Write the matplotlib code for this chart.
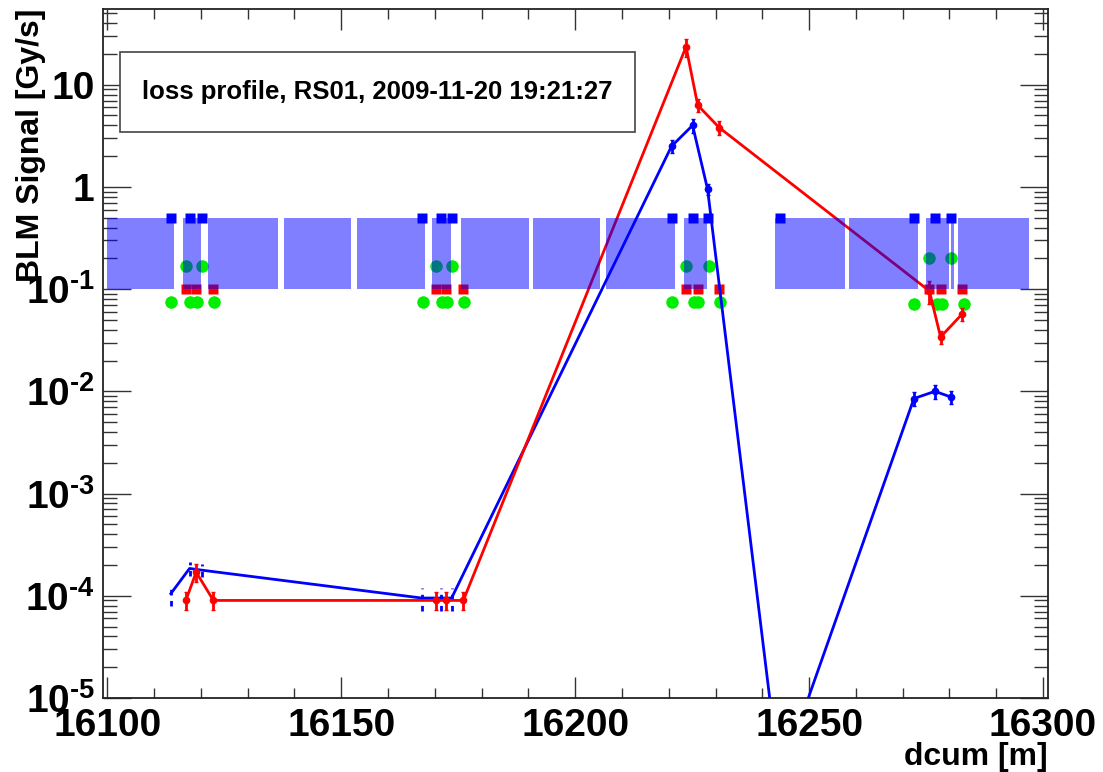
import matplotlib
matplotlib.use("Agg")
import matplotlib.pyplot as plt
from matplotlib.ticker import MultipleLocator, LogLocator, FuncFormatter, NullFormatter
from matplotlib.patches import Rectangle
import numpy as np

plt.rcParams['font.family'] = ['Liberation Sans', 'DejaVu Sans']
plt.rcParams['font.weight'] = 'bold'
plt.rcParams['mathtext.fontset'] = 'custom'
plt.rcParams['mathtext.rm'] = 'Liberation Sans:bold'
plt.rcParams['mathtext.it'] = 'Liberation Sans:bold'
plt.rcParams['mathtext.bf'] = 'Liberation Sans:bold'

# magnet (cold element) extents along dcum [m]
band_start = [16100.0, 16116.1, 16121.6, 16137.7, 16153.3, 16169.5, 16175.6, 16191.0,
              16206.5, 16223.3, 16226.7, 16242.7, 16258.6, 16274.9, 16280.3, 16281.9]
band_end = [16114.3, 16120.0, 16136.5, 16152.1, 16167.9, 16173.4, 16190.2, 16205.3,
            16221.4, 16226.6, 16228.1, 16257.7, 16273.2, 16279.9, 16280.9, 16296.9]

# monitor positions, beam 1 (blue) and beam 2 (red)
blue_pos = [16113.6, 16117.6, 16120.2, 16167.2, 16171.3, 16173.6, 16220.6, 16225.1,
            16228.3, 16243.7, 16272.4, 16276.9, 16280.3]
blue_sig = [1.05e-4, 1.85e-4, 1.78e-4, 9.5e-5, 9.5e-5, 9.5e-5, 2.5, 4.0,
            0.95, 1.6e-6, 8.5e-3, 1.0e-2, 8.8e-3]
blue_err = [0.25, 0.15, 0.15, 0.25, 0.25, 0.25, 0.15, 0.15, 0.12, 0.3, 0.15, 0.15, 0.15]
blue_dashed = [True, True, True, True, True, True, False, False, False, False, False, False, False]

red_pos = [16116.8, 16119.0, 16122.7, 16170.2, 16172.3, 16176.1, 16223.7, 16226.2,
           16230.8, 16275.7, 16278.1, 16282.7]
red_sig = [9.0e-5, 1.7e-4, 9.0e-5, 9.0e-5, 9.0e-5, 9.0e-5, 23.5, 6.3,
           3.8, 0.096, 0.034, 0.057]
red_err = [0.2, 0.2, 0.2, 0.2, 0.2, 0.2, 0.2, 0.15, 0.15, 0.25, 0.15, 0.15]

# other monitor markers
green_hi_pos = [16116.9, 16120.3, 16170.3, 16173.6, 16223.7, 16228.5, 16275.7, 16280.3]
green_hi_val = [0.17, 0.17, 0.17, 0.17, 0.17, 0.17, 0.2, 0.2]
green_lo_pos = [16113.7, 16117.7, 16119.2, 16122.9, 16167.4, 16171.5, 16172.6, 16176.3,
                16220.8, 16225.3, 16226.3, 16231.0, 16272.5, 16277.3, 16278.4, 16283.0]
green_lo_val = [0.075] * 12 + [0.072] * 4

title = "loss profile, RS01, 2009-11-20 19:21:27"

fig = plt.figure(figsize=(11.03, 7.72), dpi=100)
ax = fig.add_axes([0.0934, 0.0959, 0.8565, 0.8924])
ax.set_yscale('log')

ax.plot(green_lo_pos, green_lo_val, 'o', color='#00ee00', ms=9, mec='none', zorder=2)
ax.plot(green_hi_pos, green_hi_val, 'o', color='#00ee00', ms=9, mec='none', zorder=2)
ax.plot(red_pos, [0.1] * len(red_pos), 's', color='#ff0000', ms=6.5, mec='none', zorder=2)
ax.plot(blue_pos, [0.5] * len(blue_pos), 's', color='#0000ff', ms=6.5, mec='none', zorder=6)

bp = np.array(blue_pos)
bs = np.array(blue_sig)
be = np.array(blue_err) * bs
bd = np.array(blue_dashed)
rp = np.array(red_pos)
rs = np.array(red_sig)
re = np.array(red_err) * rs

ax.plot(bp, bs, '-', color='#0000ff', lw=2.0, zorder=3)
ax.plot(rp, rs, '-', color='#ff0000', lw=2.0, zorder=4)

eb = ax.errorbar(bp[bd], bs[bd], yerr=be[bd], fmt='none', ecolor='#0000ff',
                 elinewidth=2, capsize=0, zorder=3)
eb[2][0].set_linestyle((0, (2, 2)))
ax.errorbar(bp[~bd], bs[~bd], yerr=be[~bd], fmt='o', color='#0000ff', ms=4.5,
            elinewidth=2, capsize=1.5, zorder=3)
ax.errorbar(rp, rs, yerr=re, fmt='o', color='#ff0000', ms=4.5,
            elinewidth=2, capsize=1.5, zorder=4)

widths = np.array(band_end) - np.array(band_start)
ax.bar(band_start, [0.4] * len(band_start), width=widths, bottom=0.1, align='edge',
       color='#0000ff', alpha=0.5, linewidth=0, zorder=5)

ax.set_xlim(16099.1, 16301.0)
ax.set_ylim(1e-5, 55)

ax.xaxis.set_major_locator(MultipleLocator(50))
ax.xaxis.set_minor_locator(MultipleLocator(10))
ax.yaxis.set_major_locator(LogLocator(base=10, numticks=20))
ax.yaxis.set_minor_locator(LogLocator(base=10, subs=np.arange(2, 10), numticks=20))
ax.yaxis.set_minor_formatter(NullFormatter())


def ylab(v, pos):
    e = int(round(np.log10(v)))
    if e == 0:
        return '1'
    if e == 1:
        return '10'
    return r'$10^{\text{-}%d}$' % abs(e)


ax.yaxis.set_major_formatter(FuncFormatter(ylab))
ax.xaxis.set_major_formatter(FuncFormatter(lambda v, p: '%d' % v))

ax.tick_params(axis='both', which='both', direction='in', top=True, right=True,
               color='#333333', labelsize=28)
ax.tick_params(axis='x', which='major', length=15, width=1, pad=7)
ax.tick_params(axis='x', which='minor', length=7, width=1)
ax.tick_params(axis='y', which='major', length=20, width=1, pad=6)
ax.tick_params(axis='y', which='minor', length=10, width=1)
for s in ax.spines.values():
    s.set_linewidth(1.3)
    s.set_color('#222222')

ax.set_xlabel('dcum [m]', fontsize=23, fontweight='bold', loc='right', labelpad=-1)
ax.set_ylabel('BLM Signal [Gy/s]', fontsize=23, fontweight='bold', loc='top')
ax.yaxis.set_label_coords(-0.060, 1.0)

ax.add_patch(Rectangle((0.018, 0.8215), 0.545, 0.1161, transform=ax.transAxes,
                       facecolor='white', edgecolor='#444444', lw=1.2, zorder=7))
ax.text(0.0413, 0.8795, title, transform=ax.transAxes, fontsize=18.5, fontweight='bold',
        ha='left', va='center', zorder=8)

fig.savefig('out.png', dpi=100)
